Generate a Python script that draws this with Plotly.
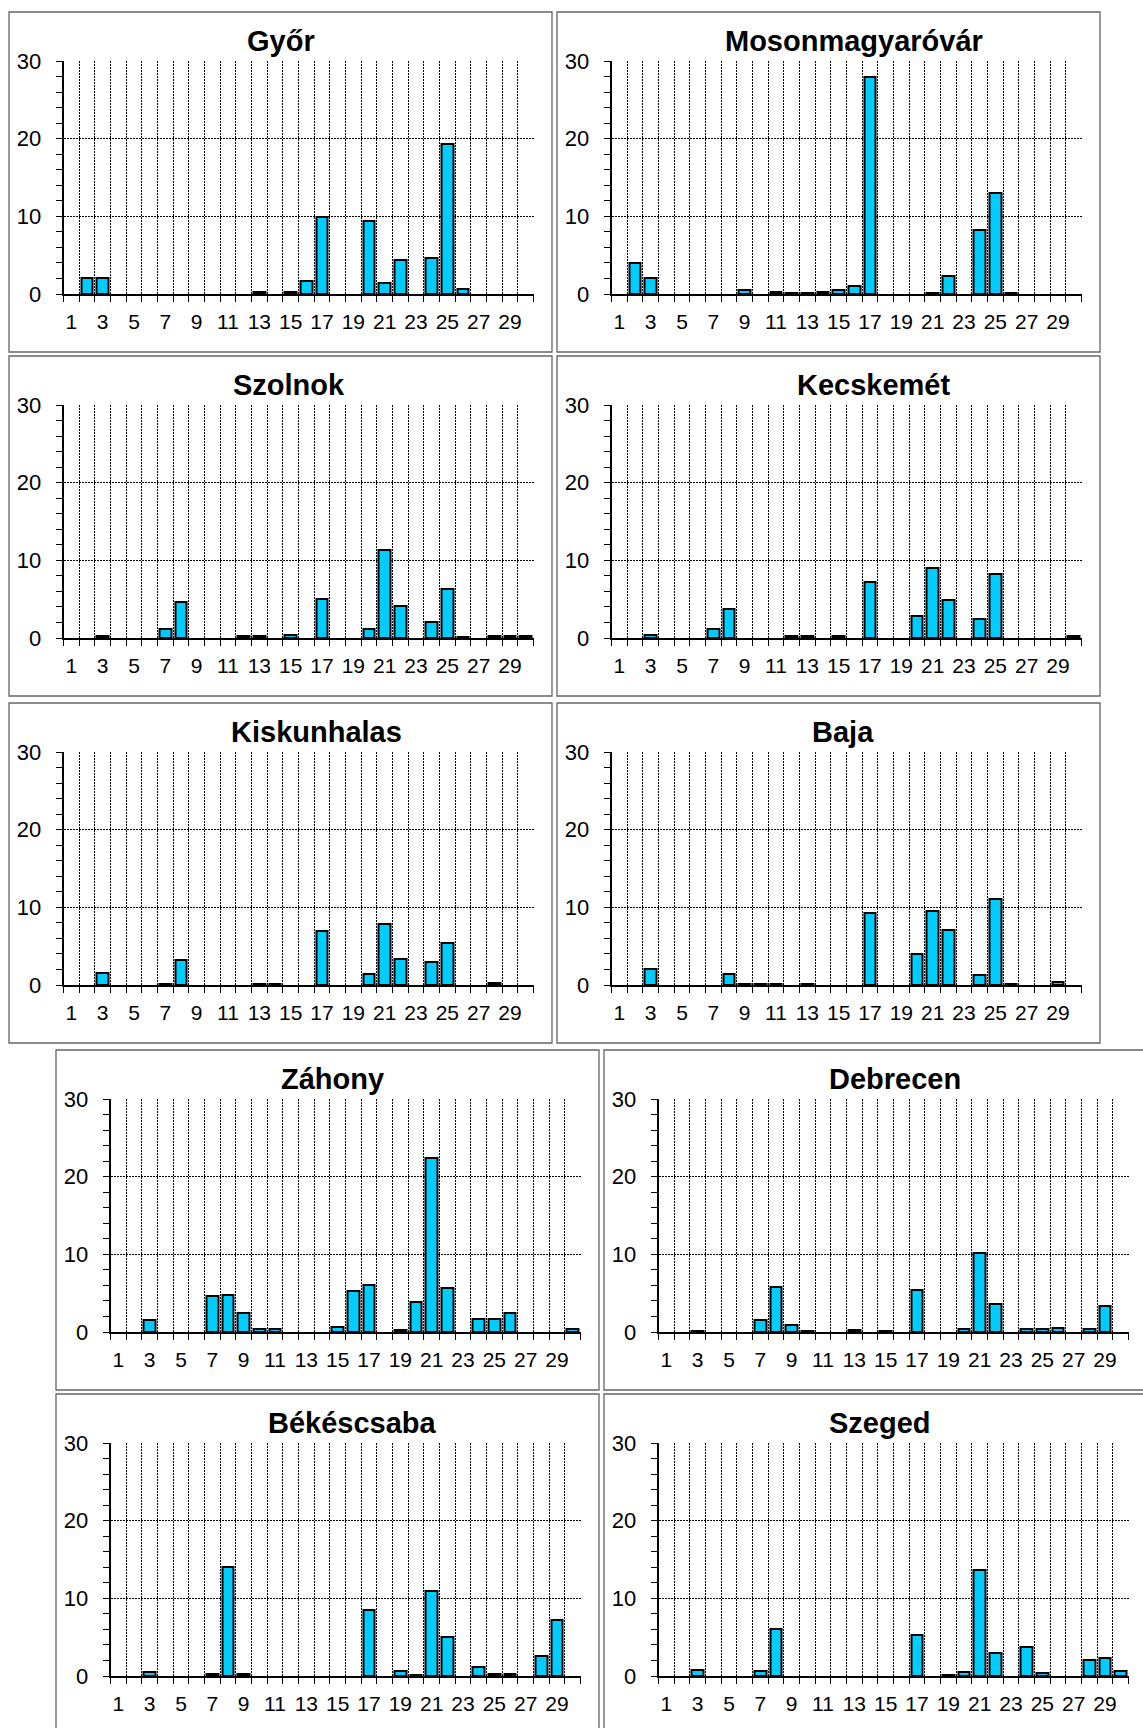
import plotly.graph_objects as go

# Day-of-month categories (1..30) and the labels shown on every other day
days = list(range(1, 31))
day_labels = [str(d) for d in range(1, 30, 2)]
y_ticks = [0, 10, 20, 30]

# Daily values per station
gyor = [0, 2.1, 2.1, 0, 0, 0, 0, 0, 0, 0, 0, 0, 0.2, 0, 0.3, 1.7, 9.9, 0, 0, 9.45,
        1.4, 4.4, 0, 4.7, 19.3, 0.6, 0, 0, 0, 0]
mosonmagyarovar = [0, 4.0, 2.0, 0, 0, 0, 0, 0, 0.5, 0, 0.2, 0.15, 0.15, 0.2, 0.5, 1.0, 28.0, 0, 0, 0,
                   0.15, 2.35, 0, 8.2, 13.0, 0.15, 0, 0, 0, 0]
szolnok = [0, 0, 0.25, 0, 0, 0, 1.15, 4.6, 0, 0, 0, 0.2, 0.25, 0, 0.4, 0, 5.0, 0, 0, 1.1,
           11.3, 4.1, 0, 2.1, 6.3, 0.1, 0, 0.2, 0.2, 0.2]
kecskemet = [0, 0, 0.4, 0, 0, 0, 1.15, 3.7, 0, 0, 0, 0.25, 0.2, 0, 0.25, 0, 7.2, 0, 0, 2.8,
             9.0, 4.9, 0, 2.5, 8.2, 0, 0, 0, 0, 0.25]
kiskunhalas = [0, 0, 1.5, 0, 0, 0, 0.15, 3.2, 0, 0, 0, 0, 0.15, 0.15, 0, 0, 7.0, 0, 0, 1.4,
               7.8, 3.3, 0, 2.9, 5.4, 0, 0, 0.25, 0, 0]
baja = [0, 0, 2.0, 0, 0, 0, 0, 1.4, 0.15, 0.15, 0.15, 0, 0.15, 0, 0, 0, 9.3, 0, 0, 4.0,
        9.5, 7.1, 0, 1.3, 11.1, 0.15, 0, 0, 0.35, 0]
zahony = [0, 0, 1.55, 0, 0, 0, 4.7, 4.8, 2.5, 0.35, 0.4, 0, 0, 0, 0.65, 5.3, 6.0, 0, 0.25, 3.9,
          22.4, 5.7, 0, 1.7, 1.7, 2.45, 0, 0, 0, 0.35]
debrecen = [0, 0, 0.15, 0, 0, 0, 1.55, 5.8, 0.95, 0.15, 0, 0, 0.25, 0, 0.15, 0, 5.45, 0, 0, 0.35,
            10.2, 3.65, 0, 0.4, 0.35, 0.5, 0, 0.4, 3.35, 0]
bekescsaba = [0, 0, 0.5, 0, 0, 0, 0.3, 14.0, 0.3, 0, 0, 0, 0, 0, 0, 0, 8.5, 0, 0.6, 0.15,
              11.0, 5.05, 0, 1.1, 0.3, 0.2, 0, 2.6, 7.2, 0]
szeged = [0, 0, 0.8, 0, 0, 0, 0.65, 6.0, 0, 0, 0, 0, 0, 0, 0, 0, 5.3, 0, 0.15, 0.5,
          13.7, 2.9, 0, 3.7, 0.4, 0, 0, 2.0, 2.3, 0.7]

stations = ["Győr", "Mosonmagyaróvár", "Szolnok", "Kecskemét", "Kiskunhalas",
            "Baja", "Záhony", "Debrecen", "Békéscsaba", "Szeged"]
series = [gyor, mosonmagyarovar, szolnok, kecskemet, kiskunhalas,
          baja, zahony, debrecen, bekescsaba, szeged]

# Page layout (pixels): frame top-left corner and title offset from plot's left edge
W, H = 1143, 1728
frames = [(9, 12), (557, 12), (9, 356), (557, 356), (9, 703),
          (557, 703), (56, 1050), (604, 1050), (56, 1394), (604, 1394)]
title_dx = [217, 242, 225, 262, 253, 231, 222, 236, 242, 221]
FRAME_W, FRAME_H = 543, 340
PLOT_DX, PLOT_DY, PLOT_W, PLOT_H = 54.5, 49, 470, 233

FONT = "Liberation Sans, Arial, sans-serif"
BAR_FILL = "#00CCFF"
GRID_DASH = "2px,1px"

fig = go.Figure()
shapes = []
annotations = []

for i, (name, vals, (fx, fy), tdx) in enumerate(zip(stations, series, frames, title_dx)):
    k = i + 1
    xa = "x" if k == 1 else f"x{k}"
    ya = "y" if k == 1 else f"y{k}"
    fig.add_trace(go.Bar(
        x=days,
        y=[v if v else None for v in vals],
        width=0.74,
        marker=dict(color=BAR_FILL, line=dict(color="black", width=2)),
        xaxis=xa, yaxis=ya, showlegend=False, hoverinfo="x+y",
    ))

    px0 = fx + PLOT_DX
    py0 = fy + PLOT_DY
    xdom = [px0 / W, (px0 + PLOT_W) / W]
    ydom = [1 - (py0 + PLOT_H) / H, 1 - py0 / H]

    fig.layout[f"xaxis{'' if k == 1 else k}"] = dict(
        domain=xdom, anchor=ya, range=[0.5, 30.5], automargin=False,
        tickmode="array", tickvals=list(range(1, 30, 2)), ticktext=day_labels,
        ticks="", showgrid=False, zeroline=False,
        showline=True, linecolor="black", linewidth=1.8,
        tickfont=dict(family=FONT, size=21, color="black"),
        ticklabelstandoff=8,
        minor=dict(tick0=0.5, dtick=1, ticks="outside", ticklen=6, tickcolor="black",
                   tickwidth=1, showgrid=True, gridcolor="black", gridwidth=1,
                   griddash=GRID_DASH),
        fixedrange=True,
    )
    fig.layout[f"yaxis{'' if k == 1 else k}"] = dict(
        domain=ydom, anchor=xa, range=[0, 30], automargin=False,
        tickmode="array", tickvals=y_ticks, ticks="outside", ticklen=6,
        tickcolor="black", tickwidth=1,
        showgrid=True, gridcolor="black", gridwidth=1, griddash=GRID_DASH,
        zeroline=False, showline=True, linecolor="black", linewidth=1.5,
        tickfont=dict(family=FONT, size=22, color="black"),
        ticklabelstandoff=10,
        minor=dict(dtick=2, ticks="outside", ticklen=6, tickcolor="black",
                   tickwidth=1, showgrid=False),
        fixedrange=True,
    )

    shapes.append(dict(
        type="rect", xref="paper", yref="paper", layer="below",
        x0=fx / W, x1=(fx + FRAME_W) / W,
        y0=1 - (fy + FRAME_H) / H, y1=1 - fy / H,
        line=dict(color="#666666", width=1.3), fillcolor="rgba(0,0,0,0)",
    ))
    annotations.append(dict(
        text=f"<b>{name}</b>", xref="paper", yref="paper",
        x=(px0 + tdx) / W, y=1 - (fy + 29) / H,
        xanchor="center", yanchor="middle", showarrow=False,
        font=dict(family=FONT, size=29, color="black"),
    ))

fig.update_layout(
    template="none",
    width=W, height=H, autosize=False,
    margin=dict(l=0, r=0, t=0, b=0, pad=0, autoexpand=False),
    paper_bgcolor="white", plot_bgcolor="white",
    bargap=0, showlegend=False,
    shapes=shapes, annotations=annotations,
)

fig.write_html("out.html")
